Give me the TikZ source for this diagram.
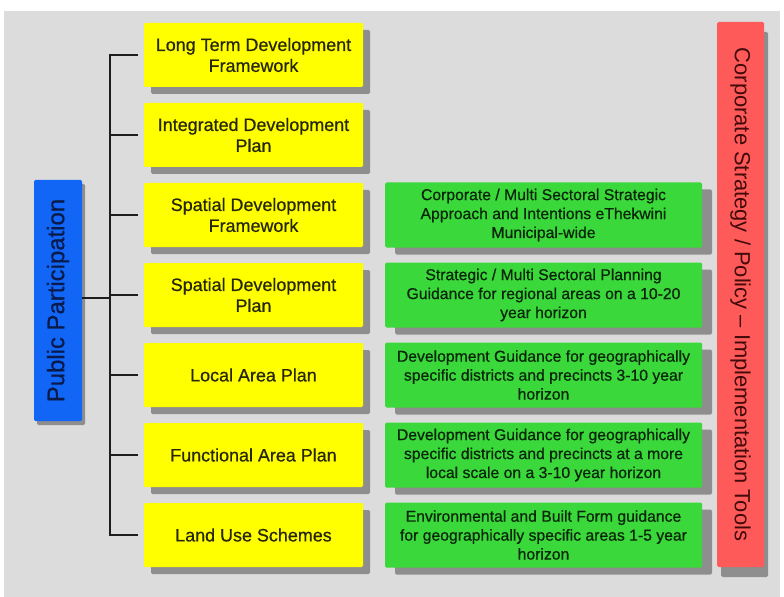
\documentclass[tikz,border=0pt]{standalone}
\usepackage{fontspec}
\setmainfont{Liberation Sans}
\newfontfamily\heavyish[FakeBold=0.6]{Liberation Sans}
\usetikzlibrary{shadows}

\definecolor{bgpanel}{HTML}{DCDCDC}
\definecolor{ylw}{HTML}{FFFF00}
\definecolor{ytxt}{HTML}{26260A}
\definecolor{grn}{HTML}{3AD83A}
\definecolor{gtxt}{HTML}{0A260A}
\definecolor{redbar}{HTML}{FF5A5A}
\definecolor{rtxt}{HTML}{420A0A}
\definecolor{bluebar}{HTML}{1166F5}
\definecolor{btxt}{HTML}{0A1A4A}
\definecolor{shd}{HTML}{8E8E8E}
\definecolor{linec}{HTML}{1E1E1E}

\begin{document}
\begin{tikzpicture}[x=1bp, y=-1bp,
  box/.style={rectangle, rounded corners=1.5bp, inner sep=0pt, align=center},
  ybox/.style={box, fill=ylw, text=ytxt, minimum width=219bp, minimum height=64bp,
    font=\heavyish\fontsize{18}{21}\selectfont,
    general shadow={fill=shd, shadow xshift=7bp, shadow yshift=-7bp}},
  gbox/.style={box, fill=grn, text=gtxt, minimum width=317bp, minimum height=65bp,
    font=\heavyish\fontsize{15.8}{19}\selectfont,
    general shadow={fill=shd, shadow xshift=10bp, shadow yshift=-7bp}},
  rbox/.style={box, fill=redbar, text=rtxt, minimum width=47bp, minimum height=545bp,
    font=\fontsize{22}{24}\selectfont,
    general shadow={fill=shd, shadow xshift=4bp, shadow yshift=-10bp}},
  bbox/.style={box, fill=bluebar, text=btxt, minimum width=48bp, minimum height=241bp,
    font=\heavyish\fontsize{24}{26}\selectfont,
    general shadow={fill=shd, shadow xshift=3bp, shadow yshift=-4bp}},
  link/.style={draw=linec, line width=1.6bp}
]
\useasboundingbox (0,0) rectangle (784,597);
\fill[bgpanel] (4,11) rectangle (780,597);

% planning instruments (yellow column)
\node[ybox] (y1) at (253.5,55)  {Long Term Development\\Framework};
\node[ybox] (y2) at (253.5,135) {Integrated Development\\Plan};
\node[ybox] (y3) at (253.5,215) {Spatial Development\\Framework};
\node[ybox] (y4) at (253.5,295) {Spatial Development\\Plan};
\node[ybox] (y5) at (253.5,375) {Local Area Plan};
\node[ybox] (y6) at (253.5,455) {Functional Area Plan};
\node[ybox] (y7) at (253.5,535) {Land Use Schemes};

% descriptions (green column)
\node[gbox] (g3) at (543.5,215) {Corporate / Multi Sectoral Strategic\\Approach and Intentions eThekwini\\Municipal-wide};
\node[gbox] (g4) at (543.5,295) {Strategic / Multi Sectoral Planning\\Guidance for regional areas on a 10-20\\year horizon};
\node[gbox] (g5) at (543.5,375) {Development Guidance for geographically\\specific districts and precincts 3-10 year\\horizon};
\node[gbox] (g6) at (543.5,455) {Development Guidance for geographically\\specific districts and precincts at a more\\local scale on a 3-10 year horizon};
\node[gbox] (g7) at (543.5,535) {Environmental and Built Form guidance\\for geographically specific areas 1-5 year\\horizon};

% side bars
\node[rbox] (corp) at (740.5,294.5) {\rotatebox{-90}{Corporate Strategy / Policy – Implementation Tools}};
\node[bbox] (pp) at (58,300.5) {\rotatebox{90}{Public Participation}};

% bracket joining public participation to the instruments
\foreach \i in {1,...,7} {
  \coordinate (t\i) at (110,{55+80*(\i-1)});
  \draw[link] (t\i) -- ([xshift=-6bp]y\i.west);
}
\draw[link, line cap=rect] (t1) -- (t7);
\coordinate (tp) at (110,298);
\draw[link] (pp.east |- tp) -- (tp);
\end{tikzpicture}
\end{document}
